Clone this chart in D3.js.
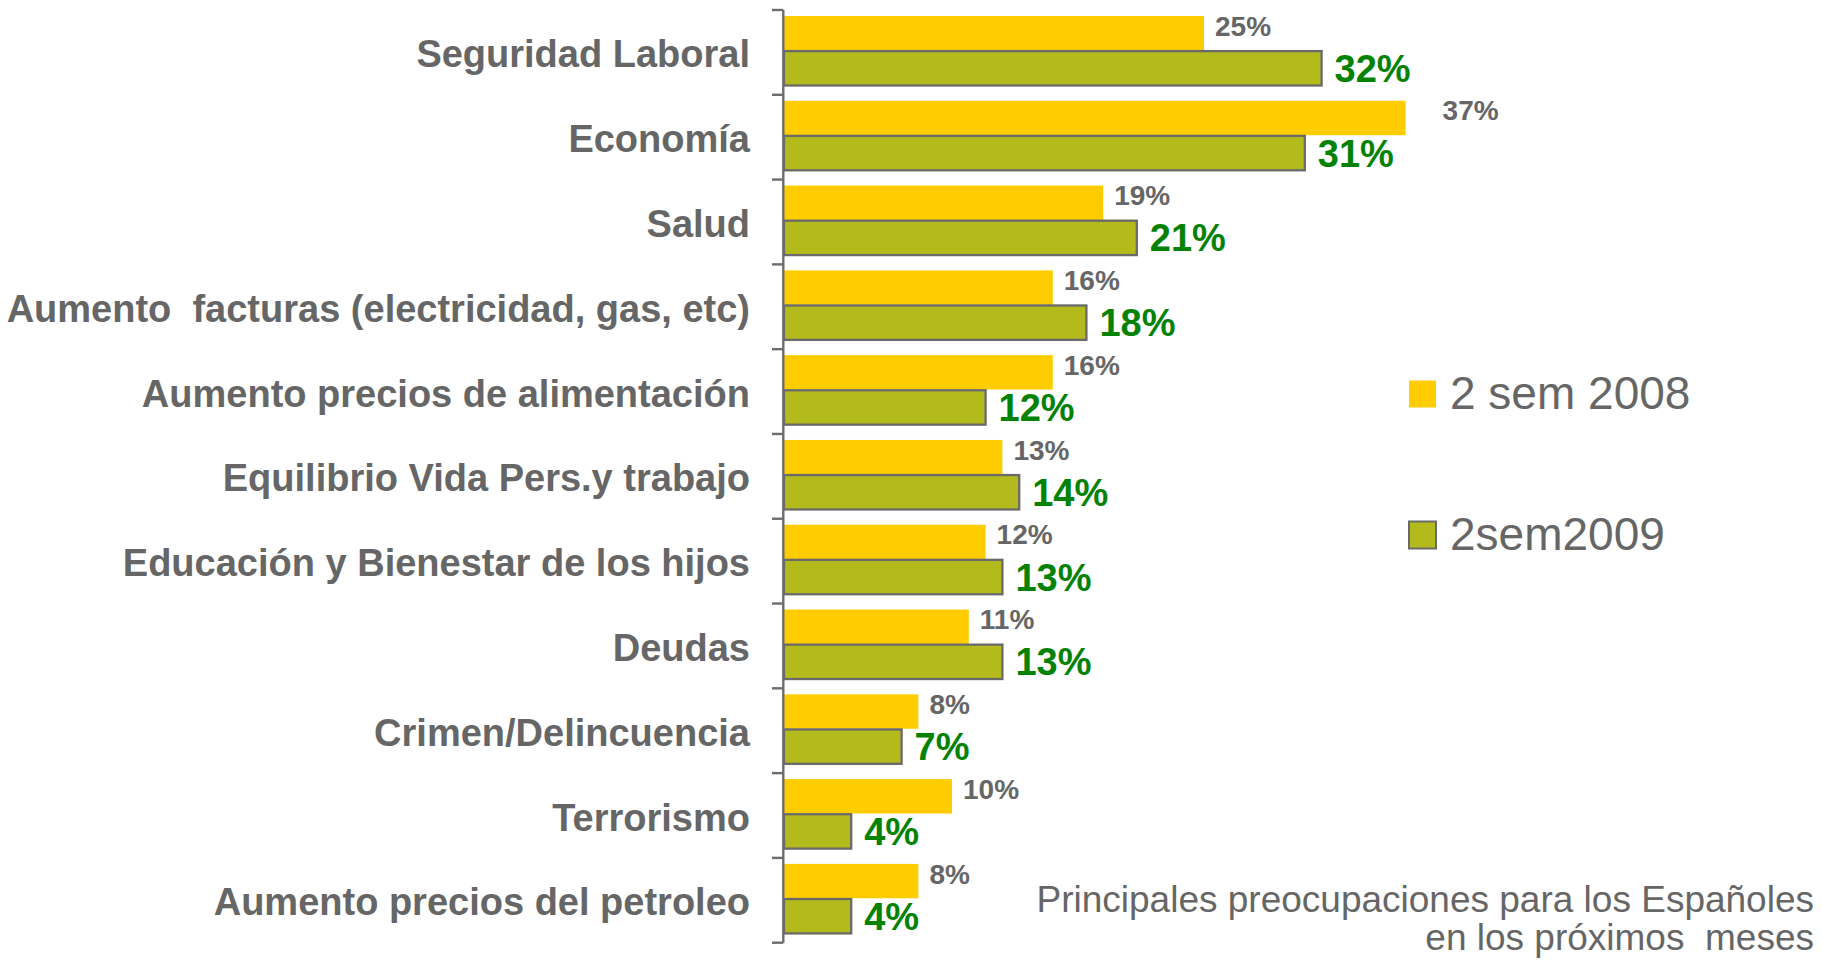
<!DOCTYPE html>
<html>
<head>
<meta charset="utf-8">
<script src="https://cdn.jsdelivr.net/npm/d3@7/dist/d3.min.js"></script>
<style>
  html, body { margin: 0; padding: 0; background: #ffffff; }
  svg { display: block; }
  text { font-family: "Liberation Sans", Arial, sans-serif; white-space: pre; }
</style>
</head>
<body>
<svg id="chart" width="1822" height="961"></svg>
<script>
const categories = [
  "Seguridad Laboral",
  "Economía",
  "Salud",
  "Aumento  facturas (electricidad, gas, etc)",
  "Aumento precios de alimentación",
  "Equilibrio Vida Pers.y trabajo",
  "Educación y Bienestar de los hijos",
  "Deudas",
  "Crimen/Delincuencia",
  "Terrorismo",
  "Aumento precios del petroleo"
];
const seriesNames = ["2 sem 2008", "2sem2009"];
const values2008 = [25, 37, 19, 16, 16, 13, 12, 11, 8, 10, 8];
const values2009 = [32, 31, 21, 18, 12, 14, 13, 13, 7, 4, 4];
const titleLines = ["Principales preocupaciones para los Españoles", "en los próximos  meses"];

const svg = d3.select("#chart");
const gray = "#666666";
const colors = { "2 sem 2008": "#ffcc00", "2sem2009": "#b3bb1c" };

const axisX = 783.3;
const x = d3.scaleLinear().domain([0, 40]).range([784, 784 + 16.8 * 40]);
const y = d3.scaleBand().domain(categories).range([10, 942.7]).padding(0);
const ySub = d3.scaleBand().domain(seriesNames).range([6, 75.5]).paddingInner(0.02);

const rows = categories.map((c, i) => ({ cat: c, vals: [
  { s: seriesNames[0], v: values2008[i] },
  { s: seriesNames[1], v: values2009[i] }
]}));

// bars
const g = svg.append("g");
const groups = g.selectAll("g.row").data(rows).join("g")
  .attr("transform", d => `translate(0,${y(d.cat)})`);

groups.selectAll("rect").data(d => d.vals).join("rect")
  .attr("x", x(0))
  .attr("y", d => ySub(d.s))
  .attr("width", d => x(d.v) - x(0))
  .attr("height", ySub.bandwidth())
  .attr("fill", d => colors[d.s])
  .attr("stroke", d => d.s === seriesNames[1] ? "#6a6a6a" : "none")
  .attr("stroke-width", 2.3);

const maxVal = d3.max(values2008.concat(values2009));
// value labels
groups.selectAll("text.val").data(d => d.vals).join("text")
  .attr("class", "val")
  .attr("x", d => x(d.v) + (d.s === seriesNames[0] ? (d.v === maxVal ? 37 : 11) : 13))
  .attr("y", d => ySub(d.s) + ySub.bandwidth() / 2 + (d.s === seriesNames[0] ? 2.5 : 13.5))
  .attr("font-weight", "bold")
  .attr("font-size", d => d.s === seriesNames[0] ? 28 : 38)
  .attr("fill", d => d.s === seriesNames[0] ? gray : "#038203")
  .text(d => d.v + "%");

// axis line and ticks at band boundaries
const axisG = svg.append("g");
axisG.append("line")
  .attr("x1", axisX).attr("x2", axisX)
  .attr("y1", y.range()[0]).attr("y2", y.range()[1])
  .attr("stroke", "#6d6d6d").attr("stroke-width", 2.4);
const bounds = categories.map(c => y(c)).concat([y.range()[1]]);
axisG.selectAll("line.tick").data(bounds).join("line")
  .attr("class", "tick")
  .attr("x1", 772).attr("x2", axisX)
  .attr("y1", d => d).attr("y2", d => d)
  .attr("stroke", "#6d6d6d").attr("stroke-width", 2.4);

// category labels
axisG.selectAll("text.cat").data(categories).join("text")
  .attr("class", "cat")
  .attr("x", 750)
  .attr("y", d => y(d) + y.bandwidth() / 2 + 15)
  .attr("text-anchor", "end")
  .attr("font-weight", "bold")
  .attr("font-size", 38)
  .attr("fill", gray)
  .text(d => d);

// legend
const legend = svg.append("g");
const legY = d3.scalePoint().domain(seriesNames).range([394, 535]);
legend.selectAll("rect").data(seriesNames).join("rect")
  .attr("x", 1409)
  .attr("y", d => legY(d) - 13.5)
  .attr("width", 27).attr("height", 27)
  .attr("fill", d => colors[d])
  .attr("stroke", d => d === seriesNames[1] ? "#6a6a6a" : "none")
  .attr("stroke-width", 2);
legend.selectAll("text").data(seriesNames).join("text")
  .attr("x", 1450)
  .attr("y", d => legY(d) + 15)
  .attr("font-size", 46)
  .attr("fill", gray)
  .text(d => d);

// title
svg.append("g").selectAll("text").data(titleLines).join("text")
  .attr("x", 1814)
  .attr("y", (d, i) => 912 + i * 38)
  .attr("text-anchor", "end")
  .attr("font-size", 37)
  .attr("fill", gray)
  .text(d => d);
</script>
</body>
</html>
